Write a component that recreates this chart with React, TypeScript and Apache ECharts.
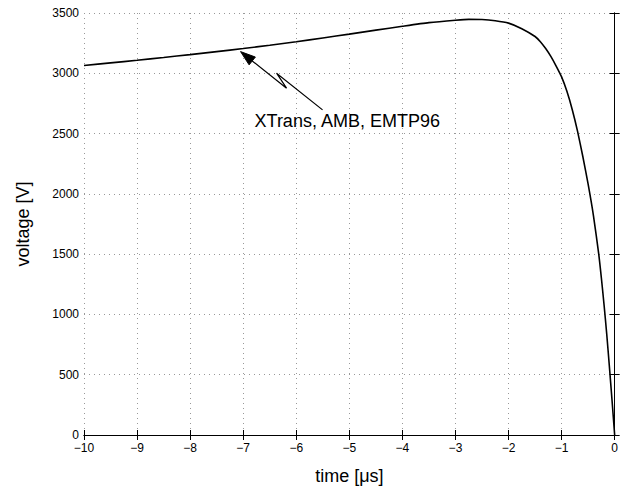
import React, { useEffect, useRef } from "react";
import * as echarts from "echarts";

const timeUs = [-10, -9.5, -9, -8.5, -8, -7.5, -7, -6.5, -6, -5.5, -5, -4.5, -4, -3.5, -3, -2.75, -2.5, -2.25, -2, -1.75, -1.5, -1.4, -1.3, -1.2, -1.1, -1, -0.9, -0.8, -0.7, -0.6, -0.5, -0.4, -0.3, -0.25, -0.2, -0.15, -0.1, -0.05, 0];
const voltage = [3065, 3086, 3108, 3131, 3155, 3180, 3205, 3233, 3262, 3293, 3325, 3358, 3390, 3420, 3440, 3447, 3446, 3436, 3416, 3370, 3305, 3262, 3205, 3138, 3058, 2970, 2850, 2700, 2520, 2310, 2080, 1820, 1500, 1300, 1080, 840, 570, 290, 0];
const xTicks = { min: -10, max: 0, interval: 1 };
const yTicks = { min: 0, max: 3500, interval: 500 };
const annotationText = "XTrans, AMB, EMTP96";
const annotationTip = [-7.05, 3180];

const fmt = (v: number) => String(v).replace("-", "\u2212");

export default function App() {
  const ref = useRef<HTMLDivElement>(null);
  useEffect(() => {
    if (!ref.current) return;
    const chart = echarts.init(ref.current, undefined, { renderer: "svg" });
    const font = "Liberation Sans, Arial, Helvetica, sans-serif";
    const axisCommon = {
      type: "value" as const,
      axisLine: { show: true, lineStyle: { color: "#000", width: 1 } },
      axisTick: { show: true, inside: true, length: 5, lineStyle: { color: "#000" } },
    };
    chart.setOption({
      animation: false,
      backgroundColor: "#fff",
      grid: { left: 84, right: 3, top: 13, bottom: 56, containLabel: false },
      xAxis: [
        {
          ...axisCommon,
          ...xTicks,
          position: "bottom",
          name: "time [\u03bcs]",
          nameLocation: "middle",
          nameGap: 32,
          nameTextStyle: { fontSize: 18, color: "#000", fontFamily: font },
          axisLabel: { fontSize: 12, color: "#000", fontFamily: font, margin: 7, formatter: fmt },
          splitLine: { show: true, lineStyle: { color: "#999", type: [1, 4], width: 1 } },
        },
        {
          ...axisCommon,
          ...xTicks,
          position: "top",
          axisLabel: { show: false },
          splitLine: { show: false },
        },
      ],
      yAxis: [
        {
          ...axisCommon,
          ...yTicks,
          position: "left",
          name: "voltage [V]",
          nameLocation: "middle",
          nameGap: 52,
          nameRotate: 90,
          nameTextStyle: { fontSize: 18, color: "#000", fontFamily: font },
          axisLabel: { fontSize: 12, color: "#000", fontFamily: font, margin: 5, formatter: fmt },
          splitLine: { show: true, lineStyle: { color: "#999", type: [1, 4], width: 1 } },
        },
        {
          ...axisCommon,
          ...yTicks,
          position: "right",
          axisLabel: { show: false },
          splitLine: { show: false },
        },
      ],
      series: [
        {
          type: "line",
          xAxisIndex: 0,
          yAxisIndex: 0,
          data: timeUs.map((t, i) => [t, voltage[i]]),
          smooth: 0.2,
          showSymbol: false,
          symbol: "none",
          lineStyle: { color: "#000", width: 1.6 },
        },
      ],
    });
    const tip = chart.convertToPixel({ gridIndex: 0 }, annotationTip) as number[];
    const [tx, ty] = tip;
    const dx = 0.78, dy = 0.625;
    const hl = 15, hw = 5;
    const bx = tx + dx * hl, by = ty + dy * hl;
    chart.setOption({
      graphic: [
        {
          type: "polyline",
          shape: { points: [[bx, by], [tx + 46, ty + 36.6], [tx + 36, ty + 21.6], [tx + 82, ty + 58.3]] },
          style: { stroke: "#000", lineWidth: 1.2, fill: null },
          silent: true,
        },
        {
          type: "polygon",
          shape: { points: [[tx, ty], [bx - dy * hw, by + dx * hw], [bx + dy * hw, by - dx * hw]] },
          style: { fill: "#000", stroke: "#000" },
          silent: true,
        },
        {
          type: "text",
          x: tx + 14,
          y: ty + 78,
          style: { text: annotationText, fontSize: 18, fontFamily: font, fill: "#000", textVerticalAlign: "bottom" },
          silent: true,
        },
      ],
    });
    return () => chart.dispose();
  }, []);
  return <div ref={ref} style={{ position: "absolute", left: 0, top: 0, width: 621, height: 491 }} />;
}
